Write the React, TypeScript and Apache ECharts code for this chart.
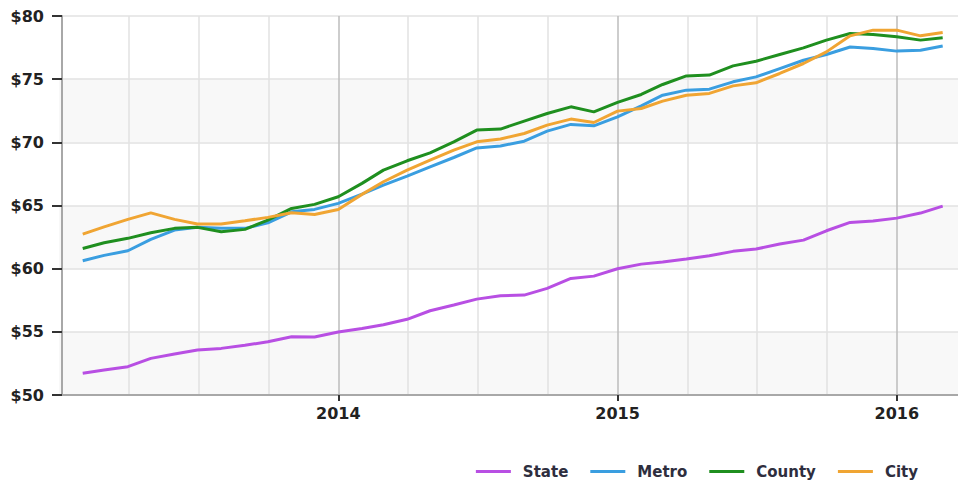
import React, { useEffect, useRef } from "react";
import * as echarts from "echarts";

const months = [
  "2013-02", "2013-03", "2013-04", "2013-05", "2013-06", "2013-07", "2013-08", "2013-09", "2013-10", "2013-11", "2013-12",
  "2014-01", "2014-02", "2014-03", "2014-04", "2014-05", "2014-06", "2014-07", "2014-08", "2014-09", "2014-10", "2014-11", "2014-12",
  "2015-01", "2015-02", "2015-03", "2015-04", "2015-05", "2015-06", "2015-07", "2015-08", "2015-09", "2015-10", "2015-11", "2015-12",
  "2016-01", "2016-02", "2016-03",
];

const state = [
  51.72, 51.98, 52.24, 52.9, 53.24, 53.56, 53.69, 53.93, 54.22, 54.61, 54.59,
  54.98, 55.27, 55.56, 55.99, 56.67, 57.12, 57.59, 57.85, 57.91, 58.44, 59.23, 59.41,
  59.99, 60.36, 60.52, 60.76, 61.02, 61.37, 61.55, 61.95, 62.26, 63.0, 63.66, 63.77,
  64.0, 64.4, 64.95,
];

const metro = [
  60.63, 61.05, 61.42, 62.32, 63.05, 63.27, 63.19, 63.19, 63.63, 64.5, 64.69,
  65.17, 65.9, 66.61, 67.33, 68.06, 68.8, 69.56, 69.71, 70.09, 70.89, 71.42, 71.31,
  72.02, 72.89, 73.73, 74.13, 74.21, 74.79, 75.18, 75.84, 76.5, 76.95, 77.55, 77.43,
  77.22, 77.29, 77.63,
];

const county = [
  61.6, 62.05, 62.4, 62.84, 63.19, 63.27, 62.92, 63.11, 63.85, 64.77, 65.09,
  65.69, 66.75, 67.8, 68.54, 69.17, 70.04, 70.97, 71.05, 71.68, 72.28, 72.81, 72.41,
  73.16, 73.79, 74.58, 75.26, 75.32, 76.05, 76.42, 76.95, 77.48, 78.09, 78.61, 78.53,
  78.35, 78.09, 78.27,
];

const city = [
  62.74, 63.31, 63.9, 64.42, 63.9, 63.53, 63.53, 63.79, 64.06, 64.42, 64.29,
  64.69, 65.88, 66.88, 67.8, 68.59, 69.38, 70.04, 70.26, 70.7, 71.36, 71.84, 71.57,
  72.47, 72.68, 73.26, 73.73, 73.87, 74.47, 74.71, 75.45, 76.24, 77.16, 78.43, 78.88,
  78.88, 78.43, 78.69,
];

const seriesNames = ["State", "Metro", "County", "City"];
const seriesColors = ["#b84fe3", "#3a9ee0", "#1f8f1f", "#f0a533"];
const yearTicks = [365, 730, 1095];

const ORIGIN = Date.UTC(2013, 0, 1);
const dayIndex = (ym: string) => {
  const [y, m] = ym.split("-").map(Number);
  return (Date.UTC(y, m - 1, 1) - ORIGIN) / 86400000;
};

export default function App() {
  const ref = useRef<HTMLDivElement>(null);
  useEffect(() => {
    if (!ref.current) return;
    const chart = echarts.init(ref.current, null, { renderer: "svg" });
    const values = [state, metro, county, city];
    const font = "DejaVu Sans";
    chart.setOption({
      animation: false,
      backgroundColor: "#ffffff",
      grid: { left: 59, right: 0, top: 16, bottom: 90 },
      legend: {
        data: seriesNames,
        right: 35,
        top: 459,
        icon: "rect",
        itemWidth: 35,
        itemHeight: 3,
        itemGap: 22,
        textStyle: { fontFamily: font, fontWeight: "bold", fontSize: 15, color: "#2e2e3e", padding: [0, 0, 0, 7] },
      },
      xAxis: {
        type: "value",
        min: 0,
        max: 1175,
        interval: 365,
        axisLine: { show: true, lineStyle: { color: "#a8a8a8", width: 2 } },
        axisTick: { show: true, length: 6, customValues: yearTicks, lineStyle: { color: "#333", width: 2 } },
        axisLabel: {
          customValues: yearTicks,
          margin: 10,
          fontFamily: font,
          fontWeight: "bold",
          fontSize: 16,
          color: "#222",
          formatter: (v: number) => (v > 0 && v % 365 === 0 ? String(2013 + v / 365) : ""),
        },
        splitLine: { show: true, lineStyle: { color: "#bdbdbd", width: 1.5 } },
        minorTick: { show: false, splitNumber: 4 },
        minorSplitLine: { show: true, lineStyle: { color: "#e2e2e2", width: 1.5 } },
      },
      yAxis: {
        type: "value",
        min: 50,
        max: 80,
        interval: 5,
        offset: -3,
        axisLine: { show: true, lineStyle: { color: "#a8a8a8", width: 2 } },
        axisTick: { show: true, length: 10, lineStyle: { color: "#333", width: 2 } },
        axisLabel: {
          margin: 18,
          fontFamily: font,
          fontWeight: "bold",
          fontSize: 16,
          color: "#222",
          formatter: "${value}",
        },
        splitLine: { show: true, lineStyle: { color: "#e2e2e2", width: 1.5 } },
        splitArea: { show: true, areaStyle: { color: ["#f8f8f8", "#ffffff"] } },
      },
      series: seriesNames.map((name, i) => ({
        name,
        type: "line",
        symbol: "none",
        color: seriesColors[i],
        lineStyle: { width: 3, color: seriesColors[i] },
        data: months.map((m, j) => [dayIndex(m), values[i][j]]),
      })),
    });
    return () => chart.dispose();
  }, []);
  return (
    <div
      ref={ref}
      style={{ position: "fixed", left: 0, top: 0, width: 958, height: 485, background: "#fff" }}
    />
  );
}
